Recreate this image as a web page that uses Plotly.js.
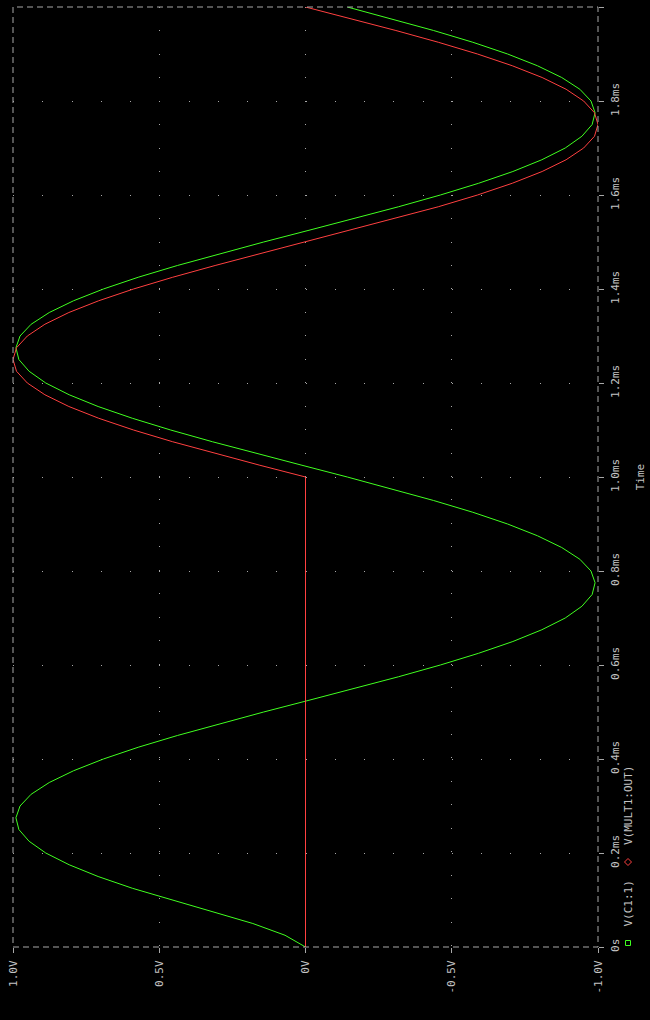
<!DOCTYPE html>
<html>
<head>
<meta charset="utf-8">
<script src="https://cdn.plot.ly/plotly-3.0.1.min.js"></script>
<style>html,body{margin:0;padding:0;background:#000;}#chart{width:650px;height:1020px;}</style>
</head>
<body>
<div id="chart"></div>
<script>
// time in ms
const timeMs = [0,0.025,0.05,0.075,0.1,0.125,0.15,0.175,0.2,0.225,0.25,0.275,0.3,0.325,0.35,0.375,0.4,0.425,0.45,0.475,
0.5,0.525,0.55,0.575,0.6,0.625,0.65,0.675,0.7,0.725,0.75,0.775,0.8,0.825,0.85,0.875,0.9,0.925,0.95,0.975,
1.0,1.025,1.05,1.075,1.1,1.125,1.15,1.175,1.2,1.225,1.25,1.275,1.3,1.325,1.35,1.375,1.4,1.425,1.45,1.475,
1.5,1.525,1.55,1.575,1.6,1.625,1.65,1.675,1.7,1.725,1.75,1.775,1.8,1.825,1.85,1.875,1.9,1.925,1.95,1.975,2.0];

// V(C1:1)
const vC1 = [0,0.07,0.18,0.318,0.461,0.592,0.709,0.808,0.888,0.945,0.980,0.990,0.976,0.938,0.876,0.793,0.691,0.572,0.438,0.294,
0.143,-0.012,-0.167,-0.318,-0.461,-0.592,-0.709,-0.808,-0.888,-0.945,-0.980,-0.990,-0.976,-0.938,-0.876,-0.793,-0.691,-0.572,-0.438,-0.294,
-0.143,0.012,0.167,0.318,0.461,0.592,0.709,0.808,0.888,0.945,0.980,0.990,0.976,0.938,0.876,0.793,0.691,0.572,0.438,0.294,
0.143,-0.012,-0.167,-0.318,-0.461,-0.592,-0.709,-0.808,-0.888,-0.945,-0.980,-0.990,-0.976,-0.938,-0.876,-0.793,-0.691,-0.572,-0.438,-0.294,-0.143];

// V(MULT1:OUT)
const vMult = [0,0,0,0,0,0,0,0,0,0,0,0,0,0,0,0,0,0,0,0,
0,0,0,0,0,0,0,0,0,0,0,0,0,0,0,0,0,0,0,0,
0,0.156,0.309,0.454,0.588,0.707,0.809,0.891,0.951,0.988,1.0,0.988,0.951,0.891,0.809,0.707,0.588,0.454,0.309,0.156,
0,-0.156,-0.309,-0.454,-0.588,-0.707,-0.809,-0.891,-0.951,-0.988,-1.0,-0.988,-0.951,-0.891,-0.809,-0.707,-0.588,-0.454,-0.309,-0.156,0];

const voltTickVals = [1, 0.5, 0, -0.5, -1];
const voltTickText = ['1.0V', '0.5V', '0V', '-0.5V', '-1.0V'];
const timeTickVals = [0,0.2,0.4,0.6,0.8,1.0,1.2,1.4,1.6,1.8,2.0];
const timeTickText = ['0s','0.2ms','0.4ms','0.6ms','0.8ms','1.0ms','1.2ms','1.4ms','1.6ms','1.8ms','2.0ms'];
const seriesNames = ['V(C1:1)', 'V(MULT1:OUT)'];

const GREEN = '#40ff20', RED = '#ff4040', GREY = '#a8a8a8', TXT = '#c4c4c4';
const FONT = {family: 'DejaVu Sans Mono, Liberation Mono, monospace', size: 11, color: TXT};

const traces = [
  {x: vC1, y: timeMs, type: 'scatter', mode: 'lines', name: seriesNames[0], line: {color: GREEN, width: 1}},
  {x: vMult, y: timeMs, type: 'scatter', mode: 'lines', name: seriesNames[1], line: {color: RED, width: 1}}
];

// legend geometry (paper coords); plot area 585 x 940 px
const px = v => (v - 13) / 585;
const py = v => (947 - v) / 940;

const layout = {
  width: 650, height: 1020,
  margin: {l: 13, r: 52, t: 7, b: 73, pad: 0},
  paper_bgcolor: '#000', plot_bgcolor: '#000',
  showlegend: false,
  font: FONT,
  xaxis: {
    range: [1, -1], autorange: false,
    tickvals: voltTickVals, ticktext: voltTickText, tickangle: -90,
    ticks: 'outside', ticklen: 5, tickcolor: GREY, tickwidth: 1,
    ticklabelstandoff: 3,
    tickfont: FONT,
    showgrid: true, gridcolor: GREY, gridwidth: 1, griddash: '1px,22.45px',
    zeroline: false, showline: false
  },
  yaxis: {
    range: [0, 2.0], autorange: false, side: 'right',
    tickvals: timeTickVals, ticktext: timeTickText, tickangle: -90,
    ticks: 'outside', ticklen: 5, tickcolor: GREY, tickwidth: 1,
    ticklabelstandoff: 2,
    tickfont: FONT,
    showgrid: true, gridcolor: GREY, gridwidth: 1, griddash: '1px,28.25px',
    zeroline: false, showline: false,
    title: {text: 'Time', font: FONT, standoff: 15}
  },
  shapes: [
    {type: 'rect', xref: 'paper', yref: 'paper', x0: 0, x1: 1, y0: 0, y1: 1,
     line: {color: GREY, width: 1, dash: '6px,4px'}, fillcolor: 'rgba(0,0,0,0)', layer: 'above'},
    {type: 'rect', xref: 'paper', yref: 'paper', x0: px(625.5), x1: px(630.5), y0: py(945.5), y1: py(940.5),
     line: {color: GREEN, width: 1}, fillcolor: 'rgba(0,0,0,0)'},
    {type: 'path', xref: 'paper', yref: 'paper',
     path: `M ${px(628)} ${py(858.5)} L ${px(631.5)} ${py(862)} L ${px(628)} ${py(865.5)} L ${px(624.5)} ${py(862)} Z`,
     line: {color: RED, width: 1}, fillcolor: 'rgba(0,0,0,0)'}
  ],
  annotations: [
    {xref: 'paper', yref: 'paper', x: px(628), y: py(903.5), text: seriesNames[0], textangle: -90,
     showarrow: false, font: FONT, xanchor: 'center', yanchor: 'middle'},
    {xref: 'paper', yref: 'paper', x: px(628), y: py(806), text: seriesNames[1], textangle: -90,
     showarrow: false, font: FONT, xanchor: 'center', yanchor: 'middle'}
  ]
};

Plotly.newPlot('chart', traces, layout, {staticPlot: true, displayModeBar: false});
</script>
</body>
</html>
